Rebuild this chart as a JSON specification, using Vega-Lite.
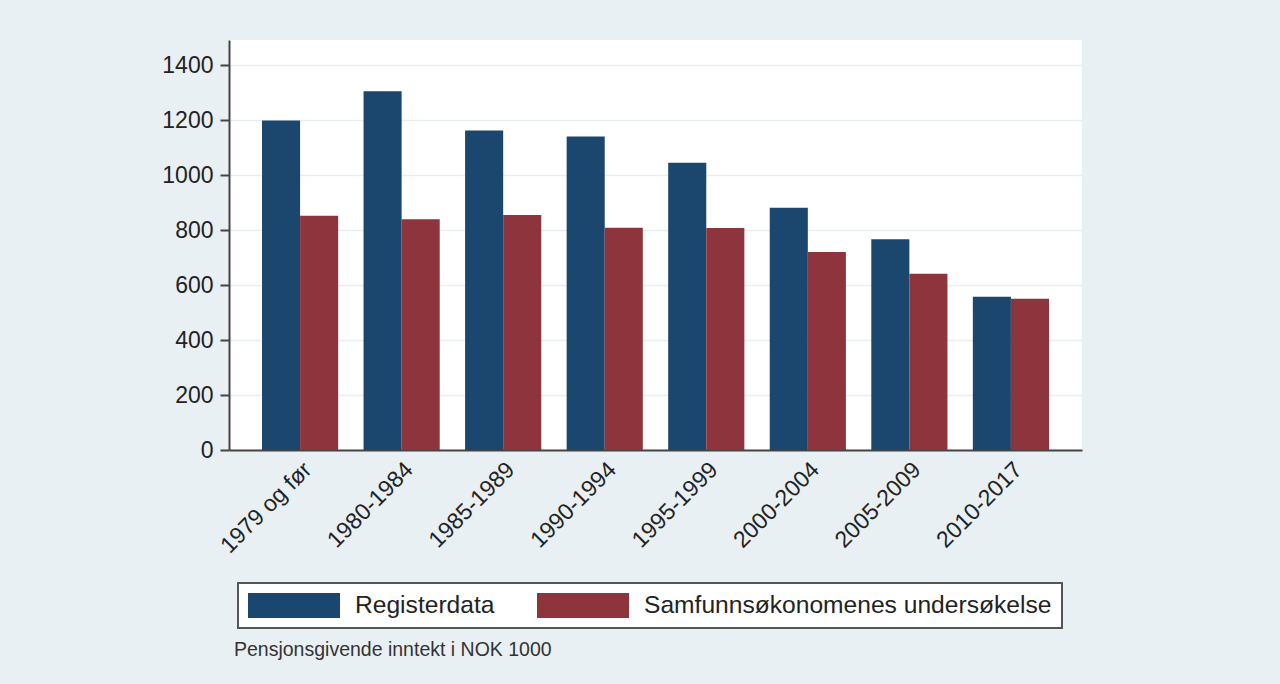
{
  "$schema": "https://vega.github.io/schema/vega-lite/v6.json",
  "autosize": "none",
  "width": 853,
  "height": 410,
  "padding": {"left": 229, "top": 40, "right": 198, "bottom": 234},
  "background": "#e9f0f3",
  "title": {
    "text": "Pensjonsgivende inntekt i NOK 1000",
    "orient": "bottom",
    "anchor": "start",
    "frame": "group",
    "font": "Liberation Sans",
    "fontSize": 19.5,
    "fontWeight": "normal",
    "color": "#333333",
    "baseline": "top",
    "offset": 12,
    "dx": 5
  },
  "data": {
    "values": [
      {"periode": "1979 og før", "kilde": "Registerdata", "verdi": 1198},
      {"periode": "1979 og før", "kilde": "Samfunnsøkonomenes undersøkelse", "verdi": 852},
      {"periode": "1980-1984", "kilde": "Registerdata", "verdi": 1305},
      {"periode": "1980-1984", "kilde": "Samfunnsøkonomenes undersøkelse", "verdi": 839},
      {"periode": "1985-1989", "kilde": "Registerdata", "verdi": 1162},
      {"periode": "1985-1989", "kilde": "Samfunnsøkonomenes undersøkelse", "verdi": 855},
      {"periode": "1990-1994", "kilde": "Registerdata", "verdi": 1140},
      {"periode": "1990-1994", "kilde": "Samfunnsøkonomenes undersøkelse", "verdi": 808},
      {"periode": "1995-1999", "kilde": "Registerdata", "verdi": 1045},
      {"periode": "1995-1999", "kilde": "Samfunnsøkonomenes undersøkelse", "verdi": 807},
      {"periode": "2000-2004", "kilde": "Registerdata", "verdi": 881},
      {"periode": "2000-2004", "kilde": "Samfunnsøkonomenes undersøkelse", "verdi": 720},
      {"periode": "2005-2009", "kilde": "Registerdata", "verdi": 766},
      {"periode": "2005-2009", "kilde": "Samfunnsøkonomenes undersøkelse", "verdi": 641},
      {"periode": "2010-2017", "kilde": "Registerdata", "verdi": 557},
      {"periode": "2010-2017", "kilde": "Samfunnsøkonomenes undersøkelse", "verdi": 550}
    ]
  },
  "mark": {"type": "bar"},
  "encoding": {
    "x": {
      "field": "periode",
      "type": "nominal",
      "sort": null,
      "scale": {"paddingInner": 0.25, "paddingOuter": 0.325},
      "axis": {
        "title": null,
        "labelAngle": -45,
        "labelFont": "Liberation Sans",
        "labelFontSize": 23,
        "labelColor": "#222222",
        "ticks": false,
        "labelPadding": 8,
        "domainColor": "#444444",
        "domainWidth": 2,
        "grid": false
      }
    },
    "xOffset": {"field": "kilde", "type": "nominal", "scale": {"paddingInner": 0, "paddingOuter": 0}},
    "y": {
      "field": "verdi",
      "type": "quantitative",
      "scale": {"domain": [0, 1491], "nice": false, "zero": true},
      "axis": {
        "title": null,
        "format": "d",
        "values": [0, 200, 400, 600, 800, 1000, 1200, 1400],
        "labelFont": "Liberation Sans",
        "labelFontSize": 23,
        "labelColor": "#222222",
        "labelPadding": 7,
        "tickSize": 9,
        "tickWidth": 2,
        "tickColor": "#444444",
        "domainColor": "#444444",
        "domainWidth": 2,
        "grid": true,
        "gridColor": "#e6eef1",
        "gridWidth": 1.5
      }
    },
    "color": {
      "field": "kilde",
      "type": "nominal",
      "scale": {
        "domain": ["Registerdata", "Samfunnsøkonomenes undersøkelse"],
        "range": ["#1b466e", "#8e343c"]
      },
      "legend": {
        "title": null,
        "orient": "none",
        "legendX": 9,
        "legendY": 543,
        "direction": "horizontal",
        "fillColor": "#ffffff",
        "strokeColor": "#555555",
        "padding": 10,
        "columnPadding": 42,
        "labelFont": "Liberation Sans",
        "labelFontSize": 24.6,
        "labelColor": "#222222",
        "labelOffset": 82,
        "labelLimit": 600,
        "symbolType": "M-1,-1L6.36,-1L6.36,1L-1,1Z",
        "symbolSize": 625,
        "symbolStrokeWidth": 0,
        "symbolOpacity": 1
      }
    }
  },
  "config": {
    "view": {"fill": "#ffffff", "stroke": null},
    "legend": {"strokeWidth": 2}
  }
}
